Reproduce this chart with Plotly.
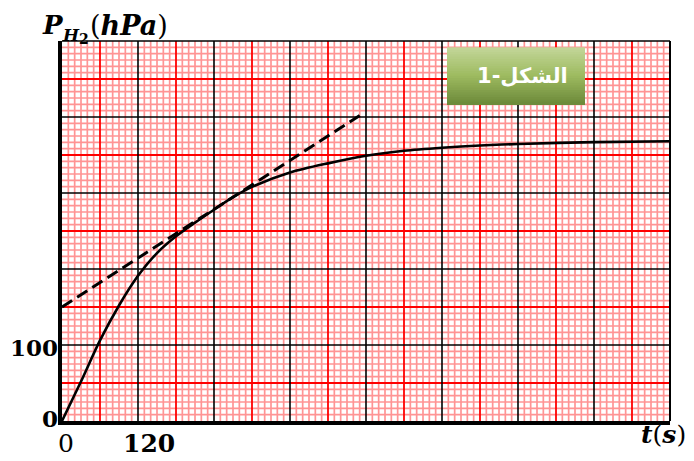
import plotly.graph_objects as go
import numpy as np

# ---- data ----
t_s = [0, 30, 60, 90, 120, 150, 180, 210, 240, 270, 300, 360, 420, 480, 540, 600, 660, 720, 840, 960]
p_hpa = [0, 52, 106, 152, 191, 221, 243, 261, 278, 294.5, 308, 327, 339, 349, 355.5, 359.5, 362.5, 364.5, 367, 368]

tangent_t = [0, 474]
tangent_p = [150, 404]

x_max, y_max = 960, 500
x_major, y_major = 120, 100

# the page body has an 8px margin, so the figure is drawn 8px smaller and
# all reference pixel positions are measured relative to the plot area
OFF = 8
W, H = 694 - OFF, 461 - OFF
L, R, T, B = 62, 670, 41, 421  # plot area in reference (page) pixels


def px(xp):
    return (xp - L) / (R - L)


def py(yp):
    return (B - yp) / (B - T)


def grid_trace(xs, ys, color, width):
    gx, gy = [], []
    for x in xs:
        gx += [x, x, None]
        gy += [0, y_max, None]
    for y in ys:
        gx += [0, x_max, None]
        gy += [y, y, None]
    return go.Scatter(x=gx, y=gy, mode="lines", line=dict(color=color, width=width),
                      hoverinfo="skip", showlegend=False)


fig = go.Figure()

# light red minor grid (12 per major)
minor_x = [i * x_major / 12 for i in range(0, 8 * 12 + 1) if i % 6 != 0]
minor_y = [i * y_major / 12 for i in range(0, 5 * 12 + 1) if i % 6 != 0]
fig.add_trace(grid_trace(minor_x, minor_y, "rgb(255,148,148)", 1.7))
# red half-major grid
half_x = [x_major / 2 + i * x_major for i in range(8)]
half_y = [y_major / 2 + i * y_major for i in range(5)]
fig.add_trace(grid_trace(half_x, half_y, "rgb(255,0,0)", 1.8))
# black major grid
maj_x = [i * x_major for i in range(1, 8)]
maj_y = [i * y_major for i in range(1, 5)]
fig.add_trace(grid_trace(maj_x, maj_y, "black", 1.6))

# tangent (dashed)
fig.add_trace(go.Scatter(x=tangent_t, y=tangent_p, mode="lines",
                         line=dict(color="black", width=3, dash="12px,6px"),
                         hoverinfo="skip", showlegend=False))
# curve
fig.add_trace(go.Scatter(x=t_s, y=p_hpa, mode="lines",
                         line=dict(color="black", width=2.6, shape="spline", smoothing=0.8),
                         hoverinfo="skip", showlegend=False))

shapes = []
# top and right borders
shapes.append(dict(type="line", xref="paper", yref="paper", x0=0, x1=1, y0=1, y1=1,
                   line=dict(color="black", width=1.6)))
shapes.append(dict(type="line", xref="paper", yref="paper", x0=1, x1=1, y0=0, y1=1,
                   line=dict(color="black", width=2)))

# gradient box for the figure label
bx0, bx1, by0, by1 = 447, 585, 48, 105
top_c = np.array([196, 215, 155])
mid_c = np.array([158, 187, 96])
bot_c = np.array([108, 137, 58])
n = 24
for i in range(n):
    f = (i + 0.5) / n
    if f < 0.5:
        c = top_c + (mid_c - top_c) * (f / 0.5)
    else:
        c = mid_c + (bot_c - mid_c) * ((f - 0.5) / 0.5)
    y_top = by0 + (by1 - by0) * i / n
    y_bot = by0 + (by1 - by0) * (i + 1) / n
    shapes.append(dict(type="rect", xref="paper", yref="paper",
                       x0=px(bx0), x1=px(bx1), y0=py(y_bot), y1=py(y_top) + 0.002,
                       line=dict(width=0),
                       fillcolor="rgb(%d,%d,%d)" % tuple(int(v) for v in c)))

serif = "DejaVu Serif"
ann = []
# box label
ann.append(dict(x=px(522), y=py(76), xref="paper", yref="paper", text="<b>الشكل-1</b>",
                showarrow=False, font=dict(family="DejaVu Sans", size=21, color="white"),
                xanchor="center", yanchor="middle"))

# y tick labels
y_tick_vals = [0, 100]
for v in y_tick_vals:
    ann.append(dict(x=0, y=v, xref="paper", yref="y", text="<b>%d</b>" % v, showarrow=False,
                    font=dict(family=serif, size=23, color="black"), borderpad=0,
                    xanchor="right", yanchor="middle", xshift=-3, yshift=(3 if v == 0 else -2)))
# x tick labels
x_tick_vals = [0, 120]
x_tick_text = ["0", "<b>120</b>"]
for v, s in zip(x_tick_vals, x_tick_text):
    ann.append(dict(x=v, y=0, xref="x", yref="paper", text=s, showarrow=False,
                    font=dict(family=serif, size=25, color="black"), borderpad=0,
                    xanchor="center", yanchor="top", xshift=(4 if v == 0 else 11), yshift=-7))

# y axis title P_{H2}(hPa)
ann.append(dict(x=px(41), y=py(25), xref="paper", yref="paper", text="<b><i>P</i></b>",
                showarrow=False, font=dict(family=serif, size=26, color="black"), borderpad=0,
                xanchor="left", yanchor="middle"))
ann.append(dict(x=px(61), y=py(35), xref="paper", yref="paper", text="<b><i>H</i></b>",
                showarrow=False, font=dict(family=serif, size=17, color="black"), borderpad=0,
                xanchor="left", yanchor="middle"))
ann.append(dict(x=px(78), y=py(39), xref="paper", yref="paper", text="<b>2</b>",
                showarrow=False, font=dict(family=serif, size=14, color="black"), borderpad=0,
                xanchor="left", yanchor="middle"))
ann.append(dict(x=px(89), y=py(25), xref="paper", yref="paper", text="(<b><i>hPa</i></b>)",
                showarrow=False, font=dict(family=serif, size=27, color="black"), borderpad=0,
                xanchor="left", yanchor="middle"))
# x axis title t(s)
ann.append(dict(x=px(640), y=py(434), xref="paper", yref="paper", text="<b><i>t</i></b>(<b><i>s</i></b>)",
                showarrow=False, font=dict(family=serif, size=25, color="black"), borderpad=0,
                xanchor="left", yanchor="middle"))

fig.update_layout(
    width=W, height=H,
    margin=dict(l=L - OFF, r=694 - R, t=T - OFF, b=461 - B, pad=0),
    paper_bgcolor="white", plot_bgcolor="white",
    xaxis=dict(range=[0, x_max], showgrid=False, zeroline=False, showticklabels=False,
               ticks="", showline=True, linecolor="black", linewidth=4, fixedrange=True),
    yaxis=dict(range=[0, y_max], showgrid=False, zeroline=False, showticklabels=False,
               ticks="", showline=True, linecolor="black", linewidth=4, fixedrange=True),
    shapes=shapes,
    annotations=ann,
    showlegend=False,
)

fig.write_html("out.html", config={"displayModeBar": False})
